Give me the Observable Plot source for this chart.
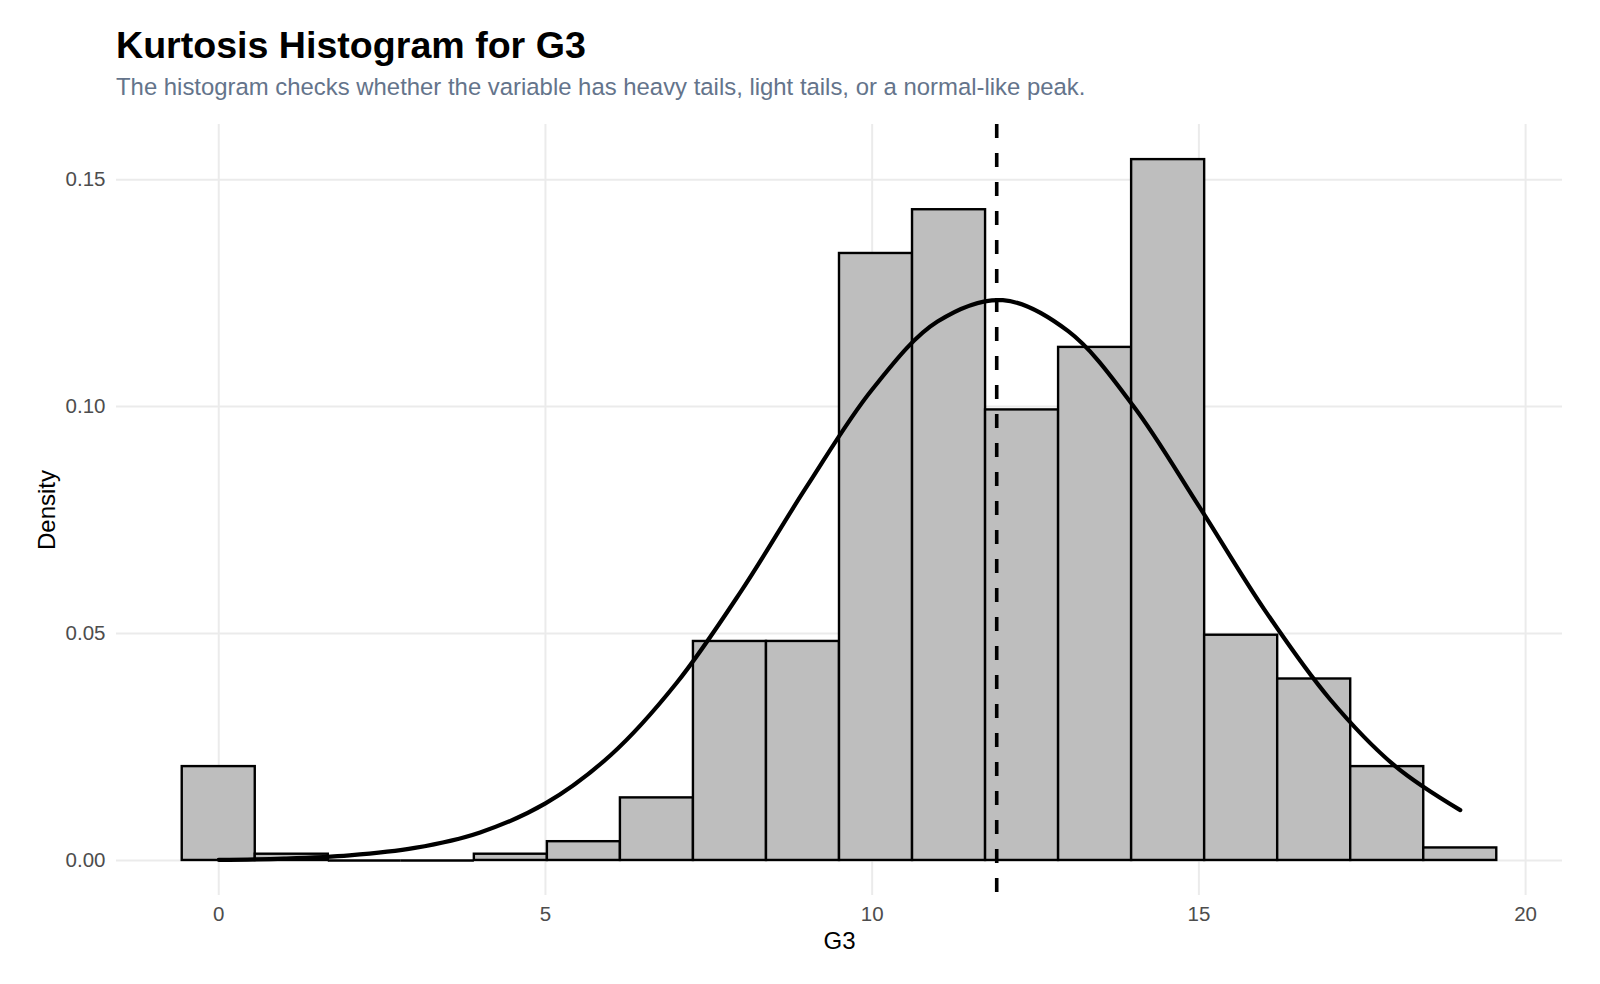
<!DOCTYPE html>
<html>
<head>
<meta charset="utf-8">
<script src="https://cdn.jsdelivr.net/npm/d3@7"></script>
<script src="https://cdn.jsdelivr.net/npm/@observablehq/plot@0.6"></script>
<style>
  html, body { margin: 0; padding: 0; background: #ffffff; }
  body { width: 1600px; height: 984px; overflow: hidden; font-family: "Liberation Sans", Arial, sans-serif; }
  #header { position: relative; width: 1600px; height: 104px; }
  #title { position: absolute; left: 116px; top: 27px; font-size: 37.6px; font-weight: bold; line-height: 1; color: #000000; white-space: nowrap; }
  #subtitle { position: absolute; left: 116px; top: 75px; font-size: 23.9px; line-height: 1; color: #64748b; white-space: nowrap; }
  #chart svg { display: block; }
</style>
</head>
<body>
<div id="header">
  <div id="title">Kurtosis Histogram for G3</div>
  <div id="subtitle">The histogram checks whether the variable has heavy tails, light tails, or a normal-like peak.</div>
</div>
<div id="chart"></div>
<script>
// Histogram bin edges for G3 (18 bins spanning 0..19)
const binEdges = [-0.5588, 0.5588, 1.6765, 2.7941, 3.9118, 5.0294, 6.1471, 7.2647, 8.3824, 9.5,
                  10.6176, 11.7353, 12.8529, 13.9706, 15.0882, 16.2059, 17.3235, 18.4412, 19.5588];
// Number of students falling in each bin
const binCounts = [15, 1, 0, 0, 1, 3, 10, 35, 35, 97, 104, 72, 82, 112, 36, 29, 15, 2];

// Fitted normal density curve, sampled at each grade
const curveX = [0, 1, 2, 3, 4, 5, 6, 7, 8, 9, 10, 11, 12, 13, 14, 15, 16, 17, 18, 19];
const curveY = [0.00014, 0.00041, 0.00112, 0.00276, 0.00618, 0.01257, 0.02323, 0.03898, 0.05946, 0.08240,
                0.10377, 0.11873, 0.12344, 0.11661, 0.10009, 0.07807, 0.05532, 0.03563, 0.02085, 0.01109];

// Mean of G3 (dashed reference line)
const meanG3 = 11.906;

const xTicks = [0, 5, 10, 15, 20];
const yTicks = [0, 0.05, 0.10, 0.15];

const total = d3.sum(binCounts);
const bins = binCounts.map((count, i) => {
  const x1 = binEdges[i], x2 = binEdges[i + 1];
  return { x1, x2, count, density: count / (total * (x2 - x1)) };
});
const curve = curveX.map((x, i) => ({ x, y: curveY[i] }));

const font = "Liberation Sans, Arial, sans-serif";

const chart = Plot.plot({
  width: 1600,
  height: 880,
  marginTop: 20,
  marginBottom: 89,
  marginLeft: 116,
  marginRight: 38,
  style: { fontFamily: font, background: "#ffffff", overflow: "visible" },
  x: { domain: [-1.5647, 20.5647], label: null },
  y: { domain: [-0.00772, 0.16215], label: null },
  marks: [
    Plot.gridX(xTicks, { stroke: "#ebebeb", strokeOpacity: 1, strokeWidth: 2 }),
    Plot.gridY(yTicks, { stroke: "#ebebeb", strokeOpacity: 1, strokeWidth: 2 }),
    Plot.axisX(xTicks, { tickSize: 0, tickPadding: 11, fontSize: 20.5, fill: "#4d4d4d", label: null }),
    Plot.axisY(yTicks, { tickSize: 0, tickPadding: 11, fontSize: 20.5, fill: "#4d4d4d", label: null, tickFormat: d3.format(".2f") }),
    Plot.rectY(bins.filter(d => d.count > 0), {
      x1: "x1", x2: "x2", y1: 0, y2: "density",
      fill: "#bebebe", stroke: "#000000", strokeWidth: 2.4, inset: 0
    }),
    // empty bins are drawn as a flat outline along zero
    Plot.ruleY(bins.filter(d => d.count === 0), {
      x1: "x1", x2: "x2", y: 0, stroke: "#000000", strokeWidth: 2.4
    }),
    Plot.line(curve, { x: "x", y: "y", curve: "catmull-rom", stroke: "#000000", strokeWidth: 4.2 }),
    Plot.ruleX([meanG3], { stroke: "#000000", strokeWidth: 3.6, strokeDasharray: "14,15" }),
    Plot.text(["Density"], { text: d => d, frameAnchor: "left", dx: -69, rotate: -90, textAnchor: "middle", lineAnchor: "middle", fontSize: 24, fill: "#000000" }),
    Plot.text(["G3"], { text: d => d, frameAnchor: "bottom", dy: 46, textAnchor: "middle", lineAnchor: "middle", fontSize: 24, fill: "#000000" })
  ]
});

document.getElementById("chart").appendChild(chart);
</script>
</body>
</html>
